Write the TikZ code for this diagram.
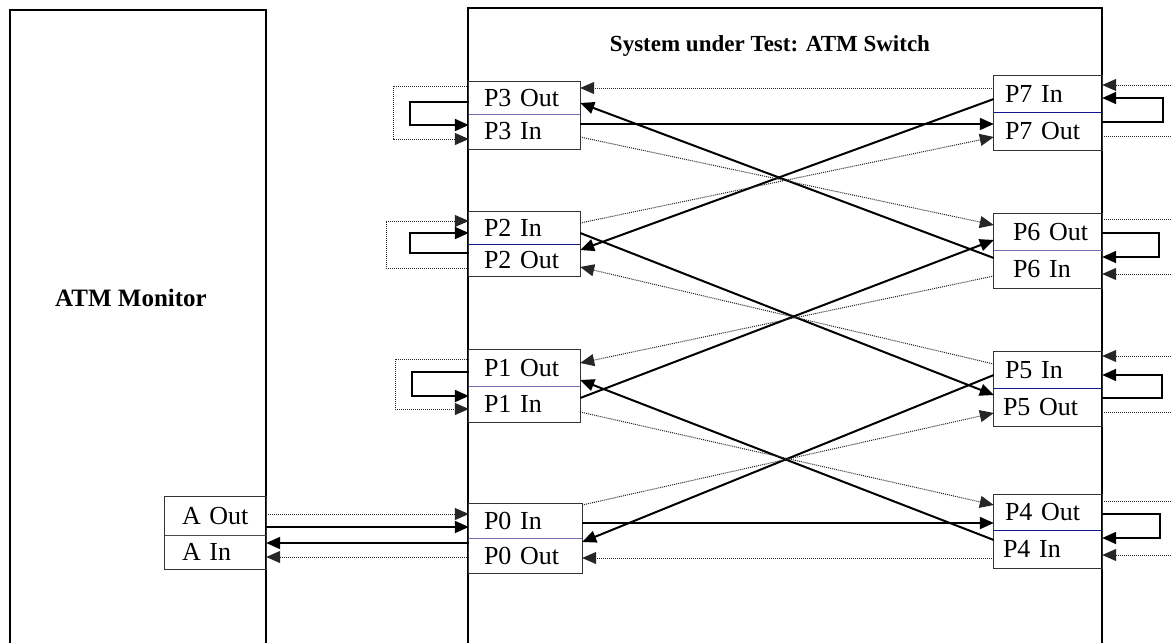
\documentclass[tikz,border=0pt]{standalone}
\usepackage{fontspec}
\setmainfont{Liberation Serif}
\usetikzlibrary{arrows.meta}
\definecolor{divA}{RGB}{112,112,184}
\definecolor{divB}{RGB}{20,20,140}
\newcommand\porthalf[7]{\node[half={#4}, minimum height=#5] (#1) at (#2,#3) {\hspace*{#6}#7};}
\begin{document}
\begin{tikzpicture}[x=1pt,y=-1pt,
  half/.style={draw=none, inner xsep=0pt, inner ysep=0pt, text width=#1, minimum width=#1, align=left, font=\fontsize{26}{28}\selectfont},
  frame/.style={draw=black!80, line width=1.3pt},
  bigline/.style={draw=black, line width=1.5pt},
  sol/.style={line width=2pt, -{Triangle[length=14pt,width=12pt]}},
  dotl/.style={line width=1pt, draw=black!85, dash pattern=on 1pt off 1pt},
  dot/.style={dotl, -{Triangle[length=14pt,width=12pt]}},
  ttl/.style={font=\bfseries\fontsize{23}{26}\selectfont}]
\useasboundingbox (0,0) rectangle (1171,643);
\fill[white] (0,0) rectangle (1171,643);
% big boxes
\node[draw=none, inner sep=0pt, minimum width=256pt, minimum height=633pt] (mon) at (138,326.5) {};
\node[draw=none, inner sep=0pt, minimum width=634pt, minimum height=635pt] (sw) at (785,325.5) {};
\draw[bigline] (mon.south west) -- (mon.north west) -- (mon.north east) -- (mon.south east);
\draw[bigline] (sw.south west) -- (sw.north west) -- (sw.north east) -- (sw.south east);
\node[ttl] (title) at (770,46) {System under Test: ATM Switch};
\node[ttl, font=\bfseries\fontsize{25}{28}\selectfont] (monlbl) at (131,298) {ATM Monitor};
% left ports
\porthalf{l3o}{524.5}{98}{111pt}{32pt}{15pt}{P3 Out}
\porthalf{l3i}{524.5}{131.5}{111pt}{35pt}{15pt}{P3 In}
\porthalf{l2i}{524.5}{228}{111pt}{32pt}{15pt}{P2 In}
\porthalf{l2o}{524.5}{260}{111pt}{32pt}{15pt}{P2 Out}
\porthalf{l1o}{524.5}{368}{111pt}{36pt}{15pt}{P1 Out}
\porthalf{l1i}{524.5}{404}{111pt}{36pt}{15pt}{P1 In}
\porthalf{l0i}{525.5}{521}{113pt}{34pt}{15pt}{P0 In}
\porthalf{l0o}{525.5}{555.5}{113pt}{35pt}{15pt}{P0 Out}
% right ports
\porthalf{r7i}{1048}{94}{108pt}{36pt}{11pt}{P7 In}
\porthalf{r7o}{1048}{131}{108pt}{38pt}{11pt}{P7 Out}
\porthalf{r6o}{1048}{232}{108pt}{36pt}{19pt}{P6 Out}
\porthalf{r6i}{1048}{269}{108pt}{38pt}{19pt}{P6 In}
\porthalf{r5i}{1048}{370}{108pt}{36pt}{11pt}{P5 In}
\porthalf{r5o}{1048}{407}{108pt}{38pt}{9pt}{P5 Out}
\porthalf{r4o}{1048}{512.5}{108pt}{35pt}{11pt}{\raisebox{-5pt}{P4 Out}}
\porthalf{r4i}{1048}{549}{108pt}{38pt}{9pt}{P4 In}
% monitor ports
\porthalf{ao}{215.5}{516}{101pt}{38pt}{17pt}{A Out}
\porthalf{ai}{215.5}{552}{101pt}{34pt}{17pt}{A In}
% frames and dividers
\foreach \t/\b/\c in {l3o/l3i/divA, l2i/l2o/divB, l1o/l1i/divA, l0i/l0o/divA, r7i/r7o/divB, r6o/r6i/divA, r5i/r5o/divB, r4o/r4i/divB, ao/ai/black!70}{
  \draw[frame] (\t.north west) rectangle (\b.south east);
  \draw[\c, line width=1.2pt] (\t.south west) -- (\t.south east);
}
% free ends at the right edge
\coordinate (e7a) at (1171,85);
\coordinate (e7b) at (1171,136);
\coordinate (e6a) at (1171,219);
\coordinate (e6b) at (1171,274);
\coordinate (e5a) at (1171,356);
\coordinate (e5b) at (1171,412);
\coordinate (e4a) at (1171,501);
\coordinate (e4b) at (1171,555);
% left loops
\draw[dot] (l3o.west |- 0,86) -- (393,86) -- (393,139) -- (l3i.west |- 0,139);
\draw[sol] (l3o.west |- 0,102) -- (410,102) -- (410,125) -- (l3i.west |- 0,125);
\draw[dot] (l2o.west |- 0,268) -- (386,268) -- (386,221) -- (l2i.west |- 0,221);
\draw[sol] (l2o.west |- 0,253) -- (410,253) -- (410,233) -- (l2i.west |- 0,233);
\draw[dot] (l1o.west |- 0,359) -- (395,359) -- (395,409) -- (l1i.west |- 0,409);
\draw[sol] (l1o.west |- 0,372) -- (412,372) -- (412,396) -- (l1i.west |- 0,396);
% right loops
\draw[dot] (e7a) -- (r7i.east |- 0,85);
\draw[sol] (r7o.east |- 0,122) -- (1163,122) -- (1163,98) -- (r7i.east |- 0,98);
\draw[dotl] (r7o.east |- 0,136) -- (e7b);
\draw[dotl] (r6o.east |- 0,219) -- (e6a);
\draw[sol] (r6o.east |- 0,233) -- (1159,233) -- (1159,257) -- (r6i.east |- 0,257);
\draw[dot] (e6b) -- (r6i.east |- 0,274);
\draw[dot] (e5a) -- (r5i.east |- 0,356);
\draw[sol] (r5o.east |- 0,398) -- (1162,398) -- (1162,375) -- (r5i.east |- 0,375);
\draw[dotl] (r5o.east |- 0,412) -- (e5b);
\draw[dotl] (r4o.east |- 0,501) -- (e4a);
\draw[sol] (r4o.east |- 0,514) -- (1160,514) -- (1160,538) -- (r4i.east |- 0,538);
\draw[dot] (e4b) -- (r4i.east |- 0,555);
% solid internal
\draw[sol] (l3i.east |- 0,124) -- (r7o.west |- 0,124);
\draw[sol] (r7i.west |- 0,99) -- (l2o.east |- 0,250);
\draw[sol] (r6i.west |- 0,258) -- (l3o.east |- 0,103);
\draw[sol] (l2i.east |- 0,233) -- (r5o.west |- 0,395);
\draw[sol] (l1i.east |- 0,398) -- (r6o.west |- 0,240);
\draw[sol] (r5i.west |- 0,375) -- (l0o.east |- 0,542);
\draw[sol] (r4i.west |- 0,540) -- (l1o.east |- 0,380);
\draw[sol] (l0i.east |- 0,523) -- (r4o.west |- 0,523);
\draw[sol] (ao.east |- 0,527) -- (l0i.west |- 0,527);
\draw[sol] (l0o.west |- 0,543) -- (ai.east |- 0,543);
% dotted internal
\draw[dot] (r7i.west |- 0,88) -- (l3o.east |- 0,88);
\draw[dot] (l2i.east |- 0,223) -- (r7o.west |- 0,137);
\draw[dot] (l3i.east |- 0,137) -- (r6o.west |- 0,225);
\draw[dot] (r6i.west |- 0,276) -- (l1o.east |- 0,363);
\draw[dot] (r5i.west |- 0,364) -- (l2o.east |- 0,267);
\draw[dot] (l1i.east |- 0,412) -- (r4o.west |- 0,505);
\draw[dot] (l0i.east |- 0,505) -- (r5o.west |- 0,413);
\draw[dot] (r4i.west |- 0,558) -- (l0o.east |- 0,558);
\draw[dot] (ao.east |- 0,514) -- (l0i.west |- 0,514);
\draw[dot] (l0o.west |- 0,557) -- (ai.east |- 0,557);
\end{tikzpicture}
\end{document}
